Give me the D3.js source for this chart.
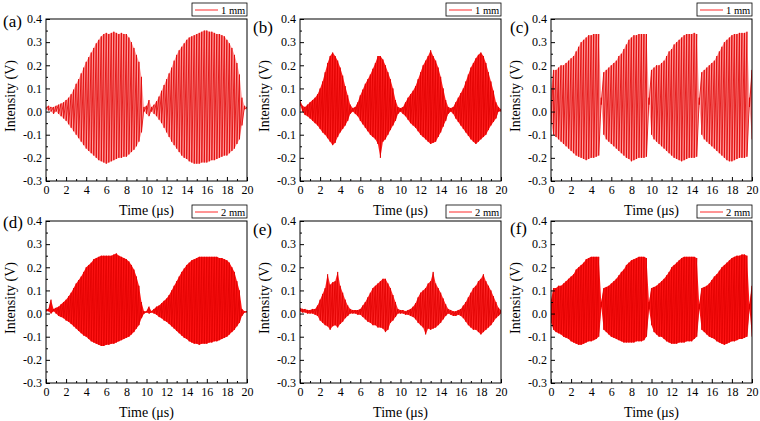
<!DOCTYPE html>
<html lang="en">
<head>
    <meta charset="utf-8">
    <script src="https://d3js.org/d3.v7.min.js"></script>
    <style>
        body { margin: 0; background: #fff; }
        text { font-family: "Liberation Serif", "Times New Roman", Times, serif; }
    </style>
</head>
<body>
<script>
    // sample times (us), one envelope reading per sample
    const times = [
        0, 0.25, 0.5, 0.75, 1, 1.25, 1.5, 1.75,
        2, 2.25, 2.5, 2.75, 3, 3.25, 3.5, 3.75,
        4, 4.25, 4.5, 4.75, 5, 5.25, 5.5, 5.75,
        6, 6.25, 6.5, 6.75, 7, 7.25, 7.5, 7.75,
        8, 8.25, 8.5, 8.75, 9, 9.25, 9.5, 9.75,
        10, 10.25, 10.5, 10.75, 11, 11.25, 11.5, 11.75,
        12, 12.25, 12.5, 12.75, 13, 13.25, 13.5, 13.75,
        14, 14.25, 14.5, 14.75, 15, 15.25, 15.5, 15.75,
        16, 16.25, 16.5, 16.75, 17, 17.25, 17.5, 17.75,
        18, 18.25, 18.5, 18.75, 19, 19.25, 19.5, 19.75,
        20];

    // upper / lower envelope of the signal
    const aHi = [0.02,0.025,0.02,0.02,0.025,0.03,0.035,0.04,
        0.05,0.06,0.075,0.095,0.12,0.14,0.165,0.19,
        0.215,0.235,0.255,0.275,0.295,0.31,0.325,0.335,
        0.34,0.335,0.34,0.345,0.34,0.335,0.34,0.335,
        0.335,0.32,0.3,0.275,0.245,0.215,0.15,0.02,
        0.025,0.05,0.02,0.03,0.045,0.065,0.09,0.115,
        0.14,0.165,0.19,0.22,0.245,0.265,0.28,0.295,
        0.31,0.32,0.325,0.33,0.335,0.34,0.345,0.35,
        0.35,0.345,0.345,0.34,0.335,0.335,0.33,0.325,
        0.31,0.295,0.275,0.245,0.21,0.16,0.06,0.025,
        0.02];
    const aLo = [0.01,0.005,0.0,-0.01,0.0,-0.01,-0.02,-0.03,
        -0.04,-0.055,-0.07,-0.085,-0.1,-0.115,-0.13,-0.145,
        -0.16,-0.17,-0.18,-0.19,-0.2,-0.21,-0.215,-0.22,
        -0.225,-0.22,-0.215,-0.21,-0.205,-0.2,-0.2,-0.195,
        -0.195,-0.185,-0.175,-0.165,-0.15,-0.13,-0.09,0.0,
        -0.01,-0.02,0.0,-0.01,-0.02,-0.035,-0.05,-0.07,
        -0.09,-0.11,-0.13,-0.145,-0.16,-0.175,-0.19,-0.2,
        -0.205,-0.215,-0.22,-0.225,-0.225,-0.225,-0.22,-0.22,
        -0.22,-0.215,-0.21,-0.21,-0.205,-0.2,-0.195,-0.19,
        -0.19,-0.18,-0.17,-0.16,-0.14,-0.12,-0.06,0.01,
        0.01];

    const bHi = [0.05,0.025,0.02,0.03,0.04,0.05,0.06,0.075,
        0.1,0.13,0.17,0.21,0.24,0.255,0.24,0.22,
        0.19,0.155,0.11,0.07,0.03,0.015,0.02,0.04,
        0.07,0.095,0.12,0.14,0.16,0.185,0.21,0.24,
        0.24,0.225,0.2,0.17,0.14,0.1,0.05,0.02,
        0.015,0.02,0.04,0.06,0.075,0.09,0.11,0.14,
        0.17,0.2,0.22,0.24,0.265,0.24,0.22,0.19,
        0.15,0.1,0.05,0.02,0.015,0.02,0.04,0.06,
        0.08,0.1,0.13,0.16,0.19,0.21,0.23,0.245,
        0.255,0.24,0.21,0.17,0.13,0.09,0.04,0.02,
        0.01];
    const bLo = [0.03,0.0,-0.015,-0.02,-0.03,-0.04,-0.05,-0.06,
        -0.075,-0.09,-0.1,-0.115,-0.13,-0.145,-0.135,-0.11,
        -0.09,-0.075,-0.06,-0.04,-0.01,0.0,-0.01,-0.02,
        -0.04,-0.055,-0.07,-0.085,-0.1,-0.11,-0.12,-0.14,
        -0.2,-0.13,-0.12,-0.1,-0.08,-0.06,-0.04,-0.01,
        0.0,-0.01,-0.02,-0.035,-0.05,-0.06,-0.07,-0.085,
        -0.1,-0.11,-0.12,-0.13,-0.14,-0.135,-0.13,-0.11,
        -0.09,-0.065,-0.04,-0.01,0.0,-0.01,-0.03,-0.045,
        -0.06,-0.075,-0.09,-0.105,-0.12,-0.13,-0.14,-0.13,
        -0.12,-0.11,-0.1,-0.08,-0.06,-0.045,-0.03,0.0,
        0.0];

    const cHi = [0.1,0.18,0.18,0.19,0.2,0.2,0.21,0.22,
        0.23,0.24,0.26,0.28,0.3,0.31,0.32,0.33,
        0.33,0.335,0.335,0.335,0.06,0.17,0.18,0.19,
        0.2,0.21,0.22,0.24,0.25,0.27,0.29,0.31,
        0.32,0.33,0.33,0.335,0.335,0.335,0.335,0.06,
        0.18,0.19,0.2,0.2,0.21,0.22,0.24,0.26,
        0.27,0.29,0.3,0.31,0.32,0.33,0.335,0.335,
        0.335,0.34,0.335,0.06,0.17,0.18,0.19,0.2,
        0.21,0.22,0.24,0.26,0.28,0.3,0.31,0.32,
        0.33,0.335,0.335,0.34,0.34,0.34,0.345,0.06,
        0.18];
    const cLo = [-0.05,-0.1,-0.11,-0.12,-0.13,-0.14,-0.15,-0.16,
        -0.17,-0.18,-0.19,-0.195,-0.2,-0.205,-0.21,-0.205,
        -0.2,-0.2,-0.195,-0.19,0.03,-0.1,-0.12,-0.13,
        -0.14,-0.15,-0.16,-0.17,-0.18,-0.19,-0.2,-0.205,
        -0.215,-0.21,-0.205,-0.2,-0.2,-0.2,-0.195,0.03,
        -0.1,-0.12,-0.13,-0.14,-0.15,-0.16,-0.17,-0.18,
        -0.19,-0.2,-0.205,-0.21,-0.215,-0.21,-0.205,-0.2,
        -0.2,-0.2,-0.195,0.03,-0.1,-0.12,-0.13,-0.14,
        -0.15,-0.16,-0.17,-0.18,-0.19,-0.2,-0.21,-0.215,
        -0.215,-0.21,-0.205,-0.2,-0.2,-0.2,-0.195,0.02,
        -0.12];

    const dHi = [0.02,0.02,0.06,0.02,0.025,0.03,0.04,0.05,
        0.06,0.075,0.09,0.11,0.13,0.145,0.16,0.18,
        0.2,0.21,0.22,0.235,0.24,0.245,0.25,0.25,
        0.25,0.25,0.25,0.255,0.26,0.25,0.245,0.24,
        0.235,0.225,0.21,0.19,0.16,0.12,0.05,0.01,
        0.01,0.03,0.01,0.02,0.03,0.035,0.045,0.055,
        0.065,0.08,0.1,0.12,0.14,0.16,0.18,0.195,
        0.21,0.22,0.23,0.235,0.24,0.245,0.245,0.245,
        0.245,0.245,0.245,0.245,0.245,0.24,0.24,0.235,
        0.23,0.22,0.2,0.18,0.14,0.1,0.02,0.01,
        0.01];
    const dLo = [0.01,0.01,0.0,0.01,0.0,-0.01,-0.015,-0.02,
        -0.03,-0.035,-0.045,-0.055,-0.065,-0.075,-0.085,-0.095,
        -0.1,-0.11,-0.12,-0.125,-0.13,-0.135,-0.14,-0.14,
        -0.135,-0.135,-0.13,-0.13,-0.125,-0.12,-0.115,-0.11,
        -0.105,-0.1,-0.09,-0.08,-0.065,-0.05,-0.02,0.0,
        0.005,0.0,0.005,0.0,-0.005,-0.015,-0.02,-0.03,
        -0.035,-0.045,-0.055,-0.065,-0.075,-0.085,-0.095,-0.105,
        -0.11,-0.12,-0.125,-0.13,-0.13,-0.135,-0.13,-0.13,
        -0.13,-0.125,-0.125,-0.12,-0.12,-0.115,-0.11,-0.105,
        -0.1,-0.09,-0.08,-0.07,-0.055,-0.04,-0.01,0.005,
        0.005];

    const eHi = [0.025,0.02,0.02,0.015,0.015,0.02,0.02,0.035,
        0.06,0.085,0.11,0.17,0.125,0.135,0.14,0.18,
        0.12,0.09,0.06,0.035,0.02,0.015,0.015,0.015,
        0.02,0.035,0.05,0.07,0.09,0.11,0.12,0.13,
        0.14,0.15,0.15,0.13,0.11,0.08,0.05,0.02,
        0.015,0.015,0.01,0.015,0.02,0.03,0.045,0.07,
        0.09,0.1,0.11,0.13,0.14,0.18,0.13,0.11,
        0.09,0.065,0.04,0.02,0.015,0.01,0.01,0.015,
        0.02,0.035,0.05,0.07,0.09,0.11,0.12,0.14,
        0.15,0.17,0.14,0.12,0.1,0.075,0.05,0.025,
        0.015];
    const eLo = [0.01,0.005,0.005,0.0,0.0,0.0,-0.005,-0.01,
        -0.03,-0.04,-0.05,-0.055,-0.07,-0.055,-0.05,-0.06,
        -0.045,-0.035,-0.02,-0.01,0.0,0.0,0.0,-0.005,
        -0.005,-0.015,-0.025,-0.035,-0.04,-0.05,-0.05,-0.06,
        -0.06,-0.065,-0.08,-0.07,-0.04,-0.03,-0.015,0.0,
        0.0,0.0,-0.005,-0.005,-0.01,-0.015,-0.025,-0.04,
        -0.05,-0.06,-0.09,-0.065,-0.07,-0.065,-0.06,-0.05,
        -0.04,-0.025,-0.01,0.0,-0.005,-0.01,-0.01,-0.005,
        -0.01,-0.02,-0.035,-0.05,-0.06,-0.07,-0.07,-0.08,
        -0.09,-0.08,-0.07,-0.06,-0.05,-0.035,-0.02,-0.01,
        0.0];

    const fHi = [0.06,0.11,0.11,0.12,0.12,0.13,0.14,0.15,
        0.16,0.17,0.19,0.2,0.21,0.22,0.235,0.24,
        0.245,0.245,0.245,0.245,0.05,0.11,0.115,0.12,
        0.13,0.14,0.15,0.165,0.18,0.19,0.21,0.22,
        0.23,0.235,0.24,0.245,0.245,0.245,0.24,0.05,
        0.11,0.115,0.12,0.13,0.14,0.15,0.165,0.18,
        0.2,0.21,0.22,0.23,0.24,0.245,0.245,0.245,
        0.245,0.245,0.24,0.04,0.11,0.115,0.12,0.13,
        0.145,0.16,0.17,0.185,0.2,0.21,0.22,0.23,
        0.24,0.245,0.25,0.25,0.255,0.255,0.25,0.04,
        0.12];
    const fLo = [-0.04,-0.07,-0.08,-0.085,-0.09,-0.1,-0.105,-0.11,
        -0.12,-0.125,-0.13,-0.135,-0.135,-0.13,-0.125,-0.12,
        -0.12,-0.115,-0.11,-0.1,0.03,-0.07,-0.08,-0.09,
        -0.1,-0.105,-0.11,-0.115,-0.12,-0.125,-0.125,-0.125,
        -0.125,-0.125,-0.12,-0.12,-0.12,-0.115,-0.1,0.02,
        -0.05,-0.08,-0.09,-0.1,-0.1,-0.11,-0.12,-0.125,
        -0.13,-0.13,-0.13,-0.125,-0.125,-0.125,-0.12,-0.12,
        -0.12,-0.11,-0.1,0.02,-0.07,-0.08,-0.09,-0.1,
        -0.105,-0.11,-0.12,-0.125,-0.13,-0.135,-0.13,-0.125,
        -0.12,-0.12,-0.115,-0.11,-0.11,-0.105,-0.1,0.02,
        -0.1];

    // tick labels
    const xTicks = [0, 2, 4, 6, 8, 10, 12, 14, 16, 18, 20];
    const xMinor = [1, 3, 5, 7, 9, 11, 13, 15, 17, 19];
    const yTicks = [-0.3, -0.2, -0.1, 0.0, 0.1, 0.2, 0.3, 0.4];
    const yMinor = [-0.25, -0.15, -0.05, 0.05, 0.15, 0.25, 0.35];

    const panelNames = ["(a)", "(b)", "(c)", "(d)", "(e)", "(f)"];
    const legendNames = ["1 mm", "1 mm", "1 mm", "2 mm", "2 mm", "2 mm"];
    const highs = [aHi, bHi, cHi, dHi, eHi, fHi];
    const lows = [aLo, bLo, cLo, dLo, eLo, fLo];

    // layout
    const W = 760, H = 421;
    const colLeft = [46, 300, 551];
    const rowTop = [19, 221];
    const pw = 201, ph = 162;
    const labelPos = [[3, 27], [253, 33], [510, 33], [3, 228], [253, 235], [510, 234]];
    const fillOpacity = [0.38, 0.88, 0.38, 0.92, 0.85, 0.92];

    const svg = d3.select("body").append("svg")
        .attr("width", W)
        .attr("height", H);

    const x = d3.scaleLinear().domain([0, 20]).range([0, pw]);
    const y = d3.scaleLinear().domain([-0.3, 0.4]).range([ph, 0]);

    panelNames.forEach(function(name, k) {
        const left = colLeft[k % 3], top = rowTop[Math.floor(k / 3)];
        const hi = highs[k], lo = lows[k];
        const g = svg.append("g").attr("transform", "translate(" + left + "," + top + ")");

        g.append("clipPath").attr("id", "clip" + k)
            .append("rect").attr("width", pw).attr("height", ph);

        const plot = g.append("g").attr("clip-path", "url(#clip" + k + ")");

        // envelope fill
        const area = d3.area()
            .x(function(d, i) { return x(times[i]); })
            .y0(function(d, i) { return y(lo[i]); })
            .y1(function(d, i) { return y(hi[i]); });
        plot.append("path")
            .datum(times)
            .attr("d", area)
            .attr("fill", "#ff0000")
            .attr("fill-opacity", fillOpacity[k]);

        // oscillation trace: up to the high reading, down to the low one
        const pts = [];
        times.forEach(function(t, i) { pts.push([t, hi[i]]); pts.push([t, lo[i]]); });
        const line = d3.line()
            .x(function(d) { return x(d[0]); })
            .y(function(d) { return y(d[1]); });
        plot.append("path")
            .datum(pts)
            .attr("d", line)
            .attr("fill", "none")
            .attr("stroke", "#e00000")
            .attr("stroke-width", 0.8);

        // axes, ticks pointing inward
        const xAxis = g.append("g").attr("transform", "translate(0," + ph + ")")
            .call(d3.axisBottom(x).tickValues(xTicks).tickSizeInner(-4).tickSizeOuter(0)
                .tickPadding(4).tickFormat(function(d) { return d; }));
        g.append("g").attr("transform", "translate(0," + ph + ")")
            .call(d3.axisBottom(x).tickValues(xMinor).tickSizeInner(-2).tickSizeOuter(0).tickFormat(""));
        const yAxis = g.append("g")
            .call(d3.axisLeft(y).tickValues(yTicks).tickSizeInner(-4).tickSizeOuter(0)
                .tickPadding(4).tickFormat(function(d) { return d.toFixed(1); }));
        g.append("g")
            .call(d3.axisLeft(y).tickValues(yMinor).tickSizeInner(-2).tickSizeOuter(0).tickFormat(""));

        g.selectAll(".domain").remove();
        g.selectAll(".tick line").attr("stroke", "#000");
        xAxis.selectAll("text").attr("font-size", 12).attr("fill", "#000");
        yAxis.selectAll("text").attr("font-size", 12).attr("fill", "#000");

        g.append("rect")
            .attr("width", pw).attr("height", ph)
            .attr("fill", "none").attr("stroke", "#000").attr("stroke-width", 1);

        // axis titles
        g.append("text")
            .attr("x", pw / 2).attr("y", ph + 34)
            .attr("text-anchor", "middle")
            .attr("font-size", 14)
            .text("Time (\u03bcs)");
        g.append("text")
            .attr("transform", "translate(-36," + (ph / 2 - 4) + ") rotate(-90)")
            .attr("text-anchor", "middle")
            .attr("dy", "0.35em")
            .attr("font-size", 14)
            .text("Intensity (V)");

        // legend box above the top right corner
        const lg = g.append("g").attr("transform", "translate(" + (pw - 55) + ",-16)");
        lg.append("rect").attr("width", 55).attr("height", 13)
            .attr("fill", "#fff").attr("stroke", "#000").attr("stroke-width", 0.8);
        lg.append("line").attr("x1", 3).attr("x2", 26).attr("y1", 7).attr("y2", 7)
            .attr("stroke", "#ff2a2a").attr("stroke-width", 1);
        lg.append("text").attr("x", 29).attr("y", 10.5)
            .attr("font-size", 10.5)
            .text(legendNames[k]);

        // panel letter
        svg.append("text")
            .attr("x", labelPos[k][0]).attr("y", labelPos[k][1])
            .attr("font-size", 17)
            .text(name);
    });
</script>
</body>
</html>
